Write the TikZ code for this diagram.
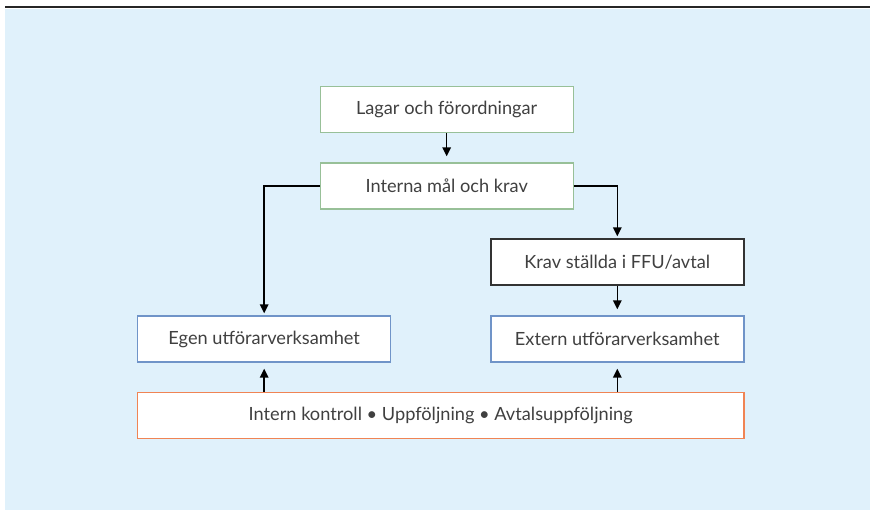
\documentclass[tikz,border=0pt]{standalone}
\usepackage{fontspec}
\setmainfont{Lato}
\usetikzlibrary{arrows.meta}

\definecolor{bgblue}{RGB}{224,241,251}
\definecolor{boxgreen}{RGB}{152,192,152}
\definecolor{boxblue}{RGB}{112,148,200}
\definecolor{boxorange}{RGB}{240,132,84}
\definecolor{textgray}{RGB}{64,64,64}

\tikzset{
    box/.style={draw, fill=white, line width=1.4pt, minimum width=253pt, minimum height=46pt,
        inner sep=0pt, text=textgray, font=\fontsize{18.2}{21}\selectfont},
    arr/.style={-{Triangle[length=9pt,width=8.5pt]}, line width=1.5pt}
}

\begin{document}
\begin{tikzpicture}[x=1pt, y=-1pt]
    \useasboundingbox (0,0) rectangle (870,510);
    \fill[bgblue] (5,9) rectangle (870,510);
    \draw[line width=2pt, black!85] (5,7.5) -- (870,7.5);

    \node[box, draw=boxgreen] (lagar) at (446.7,109.5) {Lagar och förordningar};
    \node[box, draw=boxgreen] (interna) at (446.7,186) {Interna mål och krav};
    \node[box, draw=black!80] (krav) at (617.3,262) {Krav ställda i FFU/avtal};
    \node[box, draw=boxblue] (egen) at (264.2,339) {Egen utförarverksamhet};
    \node[box, draw=boxblue] (extern) at (617.3,339) {Extern utförarverksamhet};
    \node[box, draw=boxorange, minimum width=606.7pt] (kontroll) at (440.7,415.5) {Intern kontroll • Uppföljning • Avtalsuppföljning};

    \draw[arr, shorten >=6pt] (lagar) -- (interna);
    \draw[arr, shorten >=2pt] (interna.west) -| (egen.north);
    \draw[arr, shorten >=2pt] (interna.east) -| (krav.north);
    \draw[arr, shorten >=6pt] (krav) -- (extern);
    \draw[arr, shorten >=6pt] (kontroll.north -| egen) -- (egen.south);
    \draw[arr, shorten >=6pt] (kontroll.north -| extern) -- (extern.south);
\end{tikzpicture}
\end{document}
